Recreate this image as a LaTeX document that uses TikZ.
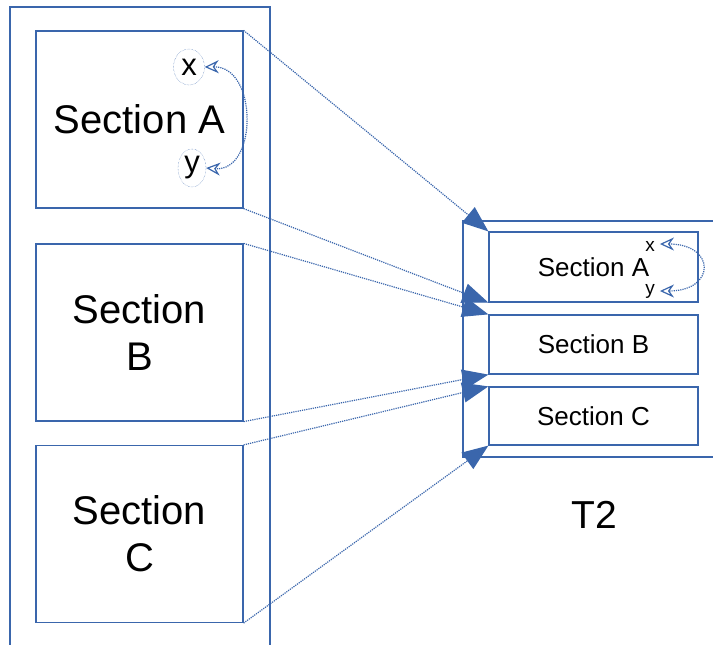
\documentclass[tikz,border=0pt]{standalone}
\usepackage{fontspec}
\setmainfont{Liberation Sans}
\usepackage{xcolor}
\definecolor{secblue}{RGB}{58,102,172}
\usepackage{tikz}
\usetikzlibrary{
    shapes.geometric,
    arrows.meta,
    positioning,
    calc
}

\tikzset{
    bigsec/.style={draw=secblue, line width=1.2pt, minimum width=207pt, minimum height=177pt,
        align=center, font=\fontsize{40}{47}\selectfont, inner sep=0pt},
    smallsec/.style={draw=secblue, line width=1.2pt, minimum width=209pt,
        align=center, font=\fontsize{26}{30}\selectfont, inner sep=0pt},
    mapline/.style={draw=secblue, densely dotted, line width=1.2pt,
        -{Triangle[length=26pt,width=20pt,fill=secblue]}},
    swapline/.style={draw=secblue, densely dotted, line width=1.2pt,
        {Stealth[open,length=14pt,width=13pt]}-{Stealth[open,length=14pt,width=13pt]}},
}

\begin{document}
\begin{tikzpicture}[x=1pt,y=-1pt]
    \useasboundingbox (0,0) rectangle (713,645);

    % left table
    \draw[secblue, line width=1.2pt] (10,645) -- (10,7) -- (270,7) -- (270,645);
    \node[bigsec] (bigA) at (139.5,119.5) {Section A};
    \node[bigsec] (bigB) at (139.5,332.5) {Section\\B};
    \node[bigsec] (bigC) at (139.5,534) {Section\\C};

    % x and y in section A
    \node[draw=secblue, densely dotted, ellipse, minimum width=31pt, minimum height=36pt,
        inner sep=0pt, font=\fontsize{31}{31}\selectfont] (bigx) at (189,67) {x};
    \node[draw=secblue, densely dotted, ellipse, minimum width=28pt, minimum height=38pt,
        inner sep=0pt, font=\fontsize{31}{31}\selectfont] (bigy) at (192,168) {y};
    \draw[swapline] (bigx.east) .. controls (258,66) and (258,172) .. (bigy.east);

    % T2
    \draw[secblue, line width=1.2pt] (713,221) -- (463,221) -- (463,457) -- (713,457);
    \node[smallsec, minimum height=70pt] (smA) at (593.5,267) {Section A};
    \node[smallsec, minimum height=59pt] (smB) at (593.5,344.5) {Section B};
    \node[smallsec, minimum height=58pt] (smC) at (593.5,416) {Section C};
    \node[font=\fontsize{39}{39}\selectfont] (tname) at (594,515) {T2};

    % x and y in small section A
    \node[font=\fontsize{19}{19}\selectfont, inner sep=1pt] (smx) at (650,246) {x};
    \node[font=\fontsize{19}{19}\selectfont, inner sep=1pt] (smy) at (650,291) {y};
    \draw[swapline] ($(smx.east)+(4,-2)$) .. controls (716,244) and (716,291) .. ($(smy.east)+(4,0)$);

    % mapping
    \draw[mapline] (bigA.north east) -- (smA.north west);
    \draw[mapline] (bigA.south east) -- (smA.south west);
    \draw[mapline] (bigB.north east) -- (smB.north west);
    \draw[mapline] (bigB.south east) -- (smB.south west);
    \draw[mapline] (bigC.north east) -- (smC.north west);
    \draw[mapline] (bigC.south east) -- (smC.south west);
\end{tikzpicture}
\end{document}
